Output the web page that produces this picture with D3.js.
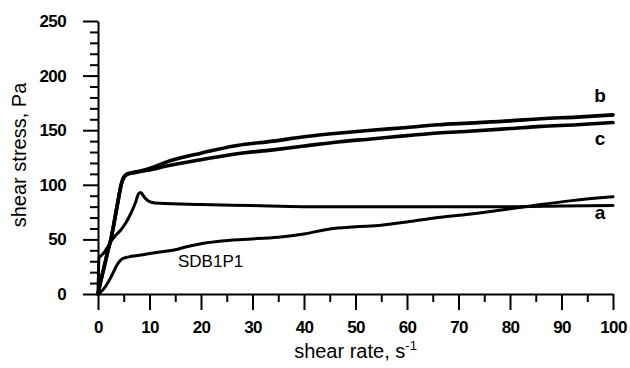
<!DOCTYPE html>
<html>
<head>
<meta charset="utf-8">
<script src="https://cdn.jsdelivr.net/npm/d3@7"></script>
<style>
html,body{margin:0;padding:0;background:#fff;}
svg{display:block;}
</style>
</head>
<body>
<svg id="chart" width="630" height="368"></svg>
<script>
// ---- data (shear rate s^-1, shear stress Pa) ----
const xMajorTicks = [0,10,20,30,40,50,60,70,80,90,100];
const xMinorTicks = [5,15,25,35,45,55,65,75,85,95];
const yMajorTicks = [0,50,100,150,200,250];
const yMinorTicks = [10,20,30,40,60,70,80,90,110,120,130,140,160,170,180,190,210,220,230,240];

const seriesB = [[0,0],[0.5,11],[1,21],[1.5,31],[2,41],[2.5,50],[3,62],[3.5,75],[4,88],[4.5,100],[5,107],[5.5,109.5],[6,110.5],[7,111.5],[8,112.5],[10,115],[14,122],[20,129],[27,136],[34,140],[40,144],[47,147.5],[53,150],[60,152.5],[66,155],[72,156.5],[80,158.5],[86,160.5],[93,162],[100,164]];
const seriesC = [[0,0],[0.5,11],[1,21],[1.5,31],[2,41],[2.5,50],[3,62],[3.5,75],[4,88],[4.5,100],[5,106.5],[5.5,109],[6,110],[7,111],[8,112],[10,113.5],[14,118],[20,123],[27,128.5],[34,132],[40,135.5],[47,139.5],[53,142],[60,145],[66,147.5],[72,149],[80,151.5],[86,153.5],[93,155],[100,157]];
const seriesA = [[0,0],[0.2,33],[0.6,35],[1.2,38],[2,44],[2.5,48],[3.5,54],[4.5,59],[5.5,66],[6.5,75],[7.3,84],[7.9,92],[8.3,93],[8.8,90],[9.3,87],[10.3,84],[12,83],[20,82],[30,81],[40,80],[50,80],[60,80],[70,80],[80,80],[90,80.5],[100,81]];
const seriesSDB = [[0,0],[1,4],[2,11],[3,20],[3.5,25],[4.2,30],[4.8,32.5],[6,34],[8,35.5],[10,37],[12,38.5],[15,40.5],[17,43],[20,46],[24,48.5],[28,50],[35,52],[40,55],[45,59.5],[50,61.5],[55,63],[60,66],[66,70],[72,73],[80,78],[86,82],[92,85.5],[100,89]];

const curveLabels = ["b","c","a"];
const curveLabelValues = [176, 136, 69]; // label anchor values near x = 100
const sampleLabel = "SDB1P1";
const xTitle = "shear rate, s";
const xTitleSup = "-1";
const yTitle = "shear stress, Pa";

// ---- layout ----
const svg = d3.select("#chart");
const x = d3.scaleLinear().domain([0,100]).range([98,613]);
const y = d3.scaleLinear().domain([0,250]).range([294,21]);
const font = "'Liberation Sans', Arial, Helvetica, sans-serif";

// axes
const gx = svg.append("g").attr("transform","translate(0,294)");
gx.call(d3.axisBottom(x).tickValues(xMajorTicks).tickSize(16).tickSizeOuter(0).tickPadding(11).tickFormat(d3.format("d")));
const gxm = svg.append("g").attr("transform","translate(0,294)");
gxm.call(d3.axisBottom(x).tickValues(xMinorTicks).tickSize(8).tickSizeOuter(0).tickFormat(""));
gxm.select(".domain").remove();

const gy = svg.append("g").attr("transform","translate(98,0)");
gy.call(d3.axisLeft(y).tickValues(yMajorTicks).tickSize(15).tickSizeOuter(0).tickPadding(17).tickFormat(d3.format("d")));
const gym = svg.append("g").attr("transform","translate(98,0)");
gym.call(d3.axisLeft(y).tickValues(yMinorTicks).tickSize(8).tickSizeOuter(0).tickFormat(""));
gym.select(".domain").remove();

svg.selectAll(".domain").attr("stroke","#000").attr("stroke-width",2);
svg.selectAll(".tick line").attr("stroke","#000").attr("stroke-width",2);
svg.selectAll(".tick text")
  .attr("fill","#000")
  .style("font-family",font)
  .style("font-size","17px")
  .style("font-weight","bold")
  .style("letter-spacing","-0.6px");

// lines
const line = d3.line().x(d=>x(d[0])).y(d=>y(d[1])).curve(d3.curveMonotoneX);
const g = svg.append("g").attr("fill","none").attr("stroke","#000").attr("stroke-linejoin","round").attr("stroke-linecap","round");
g.append("path").datum(seriesB).attr("d",line).attr("stroke-width",3.6);
g.append("path").datum(seriesC).attr("d",line).attr("stroke-width",3.6);
g.append("path").datum(seriesA).attr("d",line).attr("stroke-width",3);
g.append("path").datum(seriesSDB).attr("d",line).attr("stroke-width",3);

// curve labels
svg.selectAll("text.clab").data(curveLabels).enter().append("text")
  .attr("class","clab")
  .attr("x", x(97.5))
  .attr("y",(d,i)=>y(curveLabelValues[i]))
  .attr("text-anchor","middle")
  .style("font-family",font)
  .style("font-weight","bold")
  .style("font-size","19px")
  .text(d=>d);

svg.append("text")
  .attr("x",178).attr("y",267)
  .style("font-family",font)
  .style("font-size","17px")
  .text(sampleLabel);

// axis titles
const xt = svg.append("text")
  .attr("x",(x(0)+x(100))/2).attr("y",358)
  .attr("text-anchor","middle")
  .style("font-family",font)
  .style("font-size","20px");
xt.append("tspan").text(xTitle);
xt.append("tspan").attr("dy",-8).style("font-size","13px").text(xTitleSup);

svg.append("text")
  .attr("transform","translate(26,155) rotate(-90)")
  .attr("text-anchor","middle")
  .style("font-family",font)
  .style("font-size","20px")
  .text(yTitle);
</script>
</body>
</html>
